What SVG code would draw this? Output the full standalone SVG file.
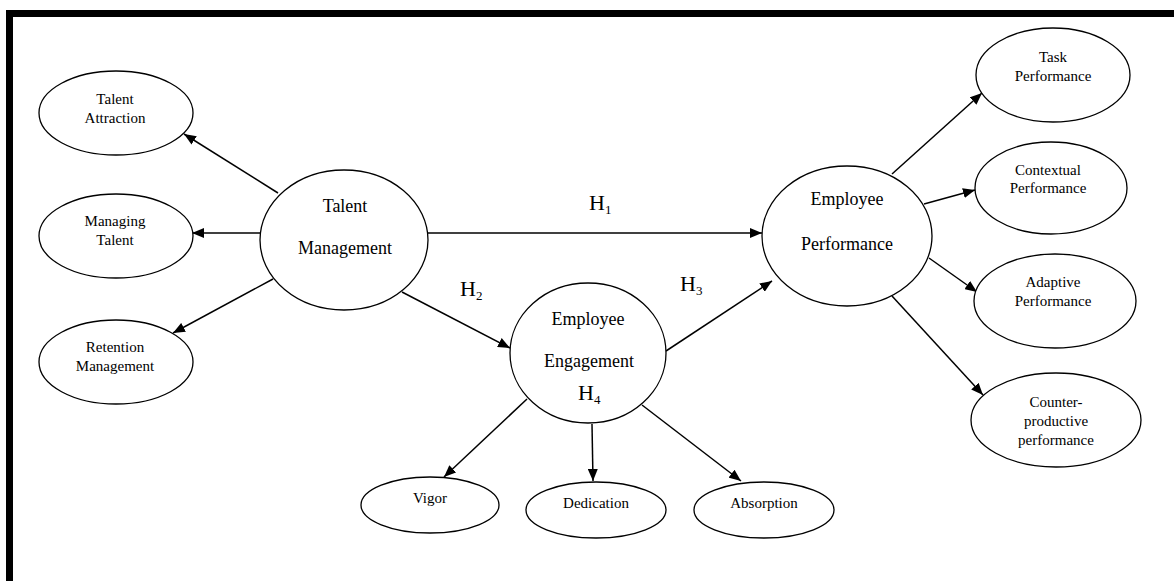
<svg xmlns="http://www.w3.org/2000/svg" width="1174" height="581" viewBox="0 0 1174 581">
<style>
.n{fill:#fff;stroke:#000;stroke-width:1.3}
text{font-family:'Liberation Serif','DejaVu Serif','Times New Roman',Times,serif;fill:#000}
.s{font-size:15px;text-anchor:middle}
.b{font-size:18px;text-anchor:middle}
.h{font-size:22px}
.sub{font-size:13px}
.c line{stroke:#000;stroke-width:1.5;marker-end:url(#ah)}
</style>
<defs>
<marker id="ah" viewBox="0 0 12 10" refX="12" refY="5" markerWidth="12" markerHeight="10" markerUnits="userSpaceOnUse" orient="auto">
<path d="M0,0 L12,5 L0,10 Z" fill="#000"/>
</marker>
</defs>
<rect x="0" y="0" width="1174" height="581" fill="#fff"/>
<rect x="6" y="10" width="1168" height="7" fill="#000"/>
<rect x="6" y="10" width="7" height="571" fill="#000"/>

<g class="c" id="connectors">
<line x1="278" y1="193" x2="184" y2="134"/>
<line x1="260" y1="233" x2="192" y2="233"/>
<line x1="273" y1="279" x2="173" y2="333"/>
<line x1="428" y1="233" x2="762" y2="233"/>
<line x1="402" y1="292" x2="510" y2="348"/>
<line x1="666" y1="351" x2="772" y2="281"/>
<line x1="527" y1="399" x2="444" y2="477"/>
<line x1="592" y1="424" x2="593" y2="481"/>
<line x1="642" y1="405" x2="741" y2="481"/>
<line x1="892" y1="174" x2="982" y2="93"/>
<line x1="924" y1="204" x2="975" y2="190"/>
<line x1="929" y1="258" x2="977" y2="292"/>
<line x1="892" y1="296" x2="983" y2="395"/>
</g>

<g id="talent-attraction"><ellipse class="n" cx="116" cy="113" rx="77" ry="42"/><text class="s" x="115" y="104">Talent</text><text class="s" x="115" y="123">Attraction</text></g>
<g id="managing-talent"><ellipse class="n" cx="116" cy="236" rx="77" ry="42"/><text class="s" x="115" y="226">Managing</text><text class="s" x="115" y="245">Talent</text></g>
<g id="retention-management"><ellipse class="n" cx="116" cy="362" rx="77" ry="42"/><text class="s" x="115" y="352">Retention</text><text class="s" x="115" y="371">Management</text></g>
<g id="talent-management"><ellipse class="n" cx="344" cy="240" rx="84" ry="70"/><text class="b" x="345" y="212">Talent</text><text class="b" x="345" y="254">Management</text></g>
<g id="employee-engagement"><ellipse class="n" cx="588" cy="353" rx="78" ry="70"/><text class="b" x="588" y="325">Employee</text><text class="b" x="589" y="367">Engagement</text></g>
<g id="employee-performance"><ellipse class="n" cx="847" cy="236" rx="85" ry="70"/><text class="b" x="847" y="205">Employee</text><text class="b" x="847" y="250">Performance</text></g>
<g id="task-performance"><ellipse class="n" cx="1053" cy="75" rx="77" ry="47"/><text class="s" x="1053" y="62">Task</text><text class="s" x="1053" y="81">Performance</text></g>
<g id="contextual-performance"><ellipse class="n" cx="1051" cy="188" rx="76" ry="46"/><text class="s" x="1048" y="175">Contextual</text><text class="s" x="1048" y="193">Performance</text></g>
<g id="adaptive-performance"><ellipse class="n" cx="1055" cy="301" rx="81" ry="47"/><text class="s" x="1053" y="287">Adaptive</text><text class="s" x="1053" y="306">Performance</text></g>
<g id="counterproductive-performance"><ellipse class="n" cx="1056" cy="420" rx="85" ry="47"/><text class="s" x="1056" y="407">Counter-</text><text class="s" x="1056" y="426">productive</text><text class="s" x="1056" y="445">performance</text></g>
<g id="vigor"><ellipse class="n" cx="430" cy="505" rx="69" ry="28"/><text class="s" x="430" y="503">Vigor</text></g>
<g id="dedication"><ellipse class="n" cx="596" cy="510" rx="70" ry="28"/><text class="s" x="596" y="508">Dedication</text></g>
<g id="absorption"><ellipse class="n" cx="764" cy="510" rx="70" ry="28"/><text class="s" x="764" y="508">Absorption</text></g>

<g id="hypotheses">
<text class="h" x="589" y="210">H<tspan class="sub" dy="4">1</tspan></text>
<text class="h" x="460" y="296">H<tspan class="sub" dy="4">2</tspan></text>
<text class="h" x="680" y="291">H<tspan class="sub" dy="4">3</tspan></text>
<text class="h" x="578" y="400">H<tspan class="sub" dy="4">4</tspan></text>
</g>
</svg>
